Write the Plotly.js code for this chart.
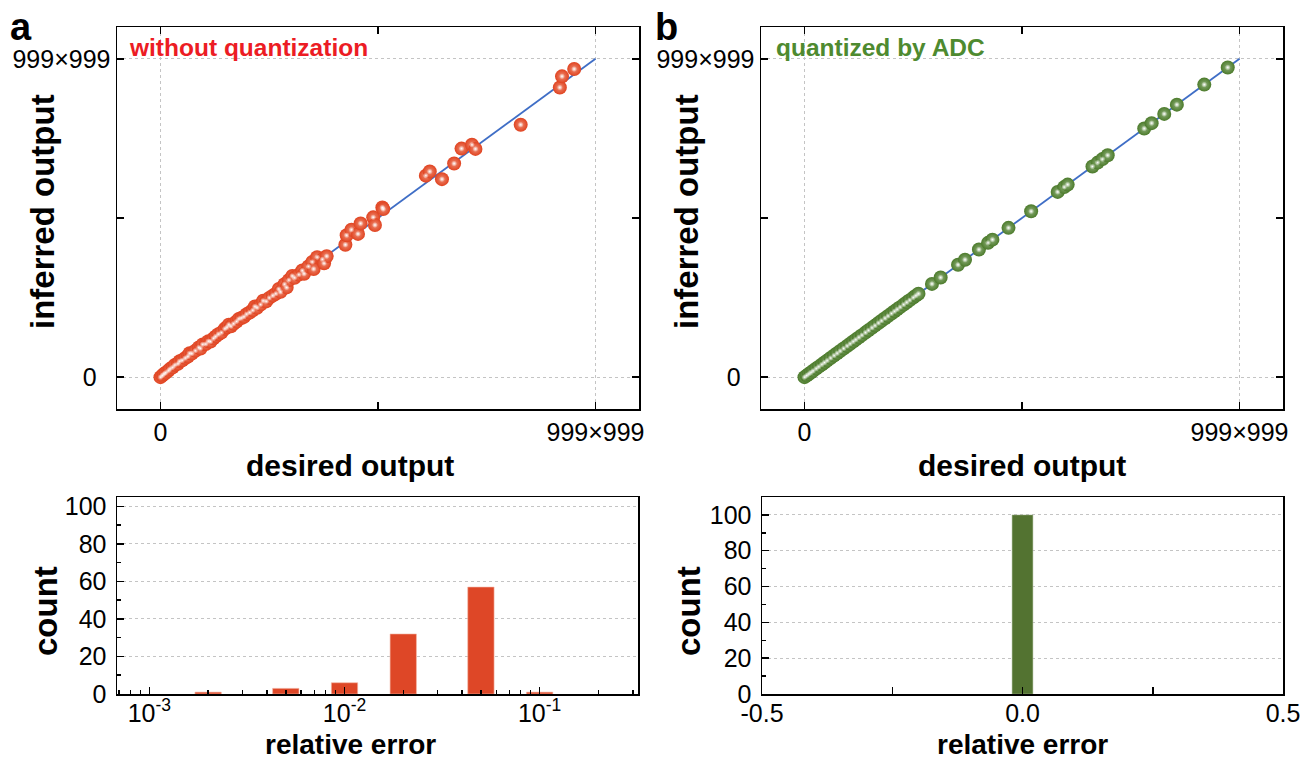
<!DOCTYPE html>
<html>
<head>
<meta charset="utf-8">
<script src="https://cdn.plot.ly/plotly-3.0.1.min.js"></script>
<style>
  html, body { margin: 0; padding: 0; background: #ffffff; }
  #chart { width: 1302px; height: 761px; }
</style>
</head>
<body>
<div id="chart"></div>
<script>
// ---------- data (values normalized to 999×999) ----------
const desiredA = [0.000,0.004,0.008,0.012,0.018,0.022,0.028,0.033,0.040,0.044,0.050,0.057,0.063,0.067,0.072,0.080,0.088,0.092,0.097,0.104,0.110,0.115,0.122,0.127,0.133,0.140,0.148,0.153,0.157,0.162,0.168,0.175,0.180,0.186,0.192,0.198,0.205,0.212,0.217,0.222,0.230,0.236,0.243,0.250,0.258,0.265,0.272,0.276,0.285,0.290,0.295,0.303,0.308,0.318,0.326,0.330,0.340,0.349,0.352,0.360,0.372,0.376,0.382,0.425,0.428,0.439,0.454,0.460,0.489,0.493,0.510,0.512,0.610,0.619,0.647,0.675,0.692,0.716,0.724,0.828,0.918,0.923,0.951];
const inferredA = [0.000,0.005,0.010,0.014,0.020,0.026,0.031,0.038,0.042,0.050,0.053,0.060,0.065,0.075,0.074,0.083,0.093,0.090,0.103,0.104,0.113,0.112,0.122,0.128,0.135,0.140,0.152,0.157,0.165,0.160,0.168,0.175,0.183,0.186,0.190,0.198,0.203,0.210,0.222,0.218,0.228,0.240,0.238,0.249,0.256,0.262,0.277,0.268,0.292,0.282,0.305,0.318,0.312,0.322,0.335,0.325,0.348,0.362,0.340,0.377,0.370,0.358,0.380,0.416,0.446,0.463,0.450,0.483,0.502,0.478,0.533,0.528,0.633,0.646,0.622,0.671,0.718,0.730,0.717,0.793,0.910,0.945,0.968];

const desiredB = [0,0.005,0.010,0.015,0.020,0.027,0.033,0.040,0.046,0.052,0.060,0.068,0.075,0.082,0.090,0.098,0.105,0.112,0.118,0.125,0.132,0.140,0.147,0.155,0.162,0.170,0.177,0.185,0.192,0.200,0.207,0.213,0.220,0.228,0.235,0.242,0.250,0.256,0.262,0.293,0.313,0.353,0.369,0.401,0.422,0.432,0.469,0.521,0.582,0.597,0.605,0.662,0.674,0.685,0.697,0.781,0.798,0.827,0.856,0.919,0.973];
const inferredB = [0,0.005,0.010,0.015,0.020,0.027,0.033,0.040,0.046,0.052,0.060,0.068,0.075,0.082,0.090,0.098,0.105,0.112,0.118,0.125,0.132,0.140,0.147,0.155,0.162,0.170,0.177,0.185,0.192,0.200,0.207,0.213,0.220,0.228,0.235,0.242,0.250,0.256,0.262,0.293,0.313,0.353,0.369,0.401,0.422,0.432,0.469,0.521,0.582,0.597,0.605,0.662,0.674,0.685,0.697,0.781,0.798,0.827,0.856,0.919,0.973];

const idealX = [0, 1];
const idealY = [0, 1];

const scatterTickVals = [0, 1];
const scatterXTickText = ['0', '999×999'];
const scatterYTickText = ['0\u00a0\u00a0', '999×999'];

const errBinsA = [0.002, 0.005, 0.01, 0.02, 0.05, 0.1];
const countsA = [1, 3, 6, 32, 57, 1];
const errBinsB = [0.0];
const countsB = [100];

const logTickVals = [-3, -2, -1];
const logTickText = ['10<sup>-3</sup>', '10<sup>-2</sup>', '10<sup>-1</sup>'];
const countTicks = [0, 20, 40, 60, 80, 100];
const linTickVals = [-0.5, 0.0, 0.5];
const linTickText = ['-0.5', '0.0', '0.5'];

// ---------- helpers ----------
const W = 1302, H = 761;
const px = x => x / W;
const py = y => 1 - y / H;
const FONT = 'Liberation Sans, Arial, sans-serif';
const RED = '#E0421F';
const GREEN = '#4B7A2A';
const BLUE = '#3F6EC6';

const minorLog = [];
[-4, -3, -2, -1].forEach(d => { for (let k = 2; k <= 9; k++) minorLog.push(Math.log10(k * Math.pow(10, d))); });

const gridDot = { gridcolor: '#c4c4c4', griddash: 'dot', gridwidth: 1 };

function scatterAxis(domain, anchor, ticktext) {
  return Object.assign({
    domain: domain, anchor: anchor, range: [-0.1, 1.1],
    tickmode: 'array', tickvals: scatterTickVals, ticktext: ticktext,
    ticks: 'inside', ticklen: 7, tickwidth: 1.5, tickcolor: '#000',
    showline: true, linecolor: '#000', linewidth: 1.5, mirror: 'ticks',
    showgrid: true, zeroline: false,
    minor: { tickvals: [0.5], ticks: 'inside', ticklen: 7, tickwidth: 1.5, tickcolor: '#000', showgrid: false },
    tickfont: { family: FONT, size: 25, color: '#000' },
    fixedrange: true
  }, gridDot);
}

function balls(x, y, xa, ya, color, mid) {
  return [
    { type: 'scatter', mode: 'markers', x: x, y: y, xaxis: xa, yaxis: ya,
      marker: { size: 14, color: color, gradient: { type: 'radial', color: mid }, line: { width: 0 } } },
    { type: 'scatter', mode: 'markers', x: x, y: y, xaxis: xa, yaxis: ya, hoverinfo: 'skip',
      marker: { size: 6, color: 'rgba(255,255,255,0)', gradient: { type: 'radial', color: '#ffffff' }, line: { width: 0 } } }
  ];
}

const traces = [].concat(
  [{ type: 'scatter', mode: 'lines', x: idealX, y: idealY, xaxis: 'x', yaxis: 'y',
     line: { color: BLUE, width: 1.8 }, hoverinfo: 'skip' }],
  balls(desiredA, inferredA, 'x', 'y', RED, '#ef8d74'),
  [{ type: 'scatter', mode: 'lines', x: idealX, y: idealY, xaxis: 'x2', yaxis: 'y2',
     line: { color: BLUE, width: 1.8 }, hoverinfo: 'skip' }],
  balls(desiredB, inferredB, 'x2', 'y2', GREEN, '#8fb07a'),
  [
    { type: 'bar', x: errBinsA.map(Math.log10), y: countsA, xaxis: 'x3', yaxis: 'y3', width: 0.135,
      marker: { color: '#DE4727', line: { color: '#f3b9a8', width: 0.6 } } },
    { type: 'bar', x: errBinsB, y: countsB, xaxis: 'x4', yaxis: 'y4', width: 0.04,
      marker: { color: '#537331', line: { color: '#a9b996', width: 0.5 } } }
  ]
);

function countAxis(domain, anchor, top) {
  return Object.assign({
    domain: domain, anchor: anchor, range: [0, top],
    tickmode: 'array', tickvals: countTicks,
    ticks: 'inside', ticklen: 7, tickwidth: 1.5, tickcolor: '#000',
    showline: true, linecolor: '#000', linewidth: 1.5, mirror: true,
    showgrid: true, zeroline: false,
    minor: { dtick: 10, tick0: 0, ticks: 'inside', ticklen: 4, tickwidth: 1.5, tickcolor: '#000', showgrid: false },
    tickfont: { family: FONT, size: 25, color: '#000' },
    ticklabelstandoff: 4,
    fixedrange: true
  }, gridDot);
}

function ann(text, x, y, size, opts) {
  return Object.assign({ text: text, x: px(x), y: py(y), xref: 'paper', yref: 'paper',
    xanchor: 'center', yanchor: 'middle', showarrow: false,
    font: { family: FONT, size: size, color: '#000' } }, opts || {});
}

const layout = {
  width: W, height: H,
  margin: { l: 0, r: 0, t: 0, b: 0 },
  paper_bgcolor: '#fff', plot_bgcolor: '#fff',
  showlegend: false,
  bargap: 0,
  xaxis: scatterAxis([px(117), px(639)], 'y', scatterXTickText),
  yaxis: scatterAxis([py(409), py(27)], 'x', scatterYTickText),
  xaxis2: scatterAxis([px(761), px(1283)], 'y2', scatterXTickText),
  yaxis2: scatterAxis([py(409), py(27)], 'x2', scatterYTickText),
  xaxis3: {
    domain: [px(117), px(638)], anchor: 'y3', range: [-3.166, -0.496],
    tickmode: 'array', tickvals: logTickVals, ticktext: logTickText,
    ticks: 'inside', ticklen: 7, tickwidth: 1.5, tickcolor: '#000',
    showline: true, linecolor: '#000', linewidth: 1.5, mirror: true,
    showgrid: false, zeroline: false,
    minor: { tickvals: minorLog, ticks: 'inside', ticklen: 4, tickwidth: 1.5, tickcolor: '#000', showgrid: false },
    tickfont: { family: FONT, size: 25, color: '#000' },
    ticklabelstandoff: -4,
    fixedrange: true
  },
  yaxis3: countAxis([py(694), py(497)], 'x3', 105),
  xaxis4: {
    domain: [px(762), px(1283)], anchor: 'y4', range: [-0.5, 0.5],
    tickmode: 'array', tickvals: linTickVals, ticktext: linTickText,
    ticks: 'inside', ticklen: 7, tickwidth: 1.5, tickcolor: '#000',
    showline: true, linecolor: '#000', linewidth: 1.5, mirror: true,
    showgrid: false, zeroline: false,
    minor: { tickvals: [-0.25, 0.25], ticks: 'inside', ticklen: 7, tickwidth: 1.5, tickcolor: '#000', showgrid: false },
    tickfont: { family: FONT, size: 25, color: '#000' },
    ticklabelstandoff: -4,
    fixedrange: true
  },
  yaxis4: countAxis([py(694), py(497)], 'x4', 110),
  annotations: [
    ann('<b>a</b>', 8, 50, 38, { xanchor: 'left', yanchor: 'bottom' }),
    ann('<b>b</b>', 653, 50, 38, { xanchor: 'left', yanchor: 'bottom' }),
    ann('<b>without quantization</b>', 127, 48, 24.5, { xanchor: 'left', font: { family: FONT, size: 24.5, color: '#EC1C24' } }),
    ann('<b>quantized by ADC</b>', 774, 48, 24.5, { xanchor: 'left', font: { family: FONT, size: 24.5, color: '#4E8A30' } }),
    ann('<b>desired output</b>', 350, 465, 30),
    ann('<b>desired output</b>', 1022, 465, 30),
    ann('<b>inferred output</b>', 43, 212, 33, { textangle: -90 }),
    ann('<b>inferred output</b>', 687, 212, 33, { textangle: -90 }),
    ann('<b>count</b>', 45, 611, 33, { textangle: -90 }),
    ann('<b>count</b>', 688, 611, 33, { textangle: -90 }),
    ann('<b>relative error</b>', 350, 744, 28),
    ann('<b>relative error</b>', 1022, 744, 28)
  ]
};

Plotly.newPlot('chart', traces, layout, { displayModeBar: false, staticPlot: true });
</script>
</body>
</html>
